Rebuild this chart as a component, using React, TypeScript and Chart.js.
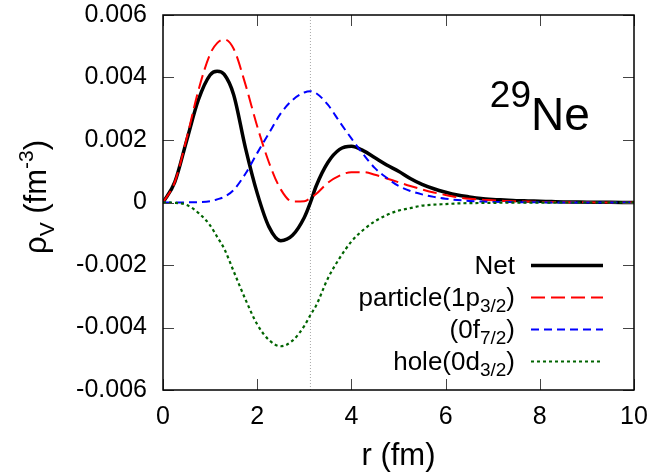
import React, { useEffect, useRef } from "react";
import { Chart, registerables } from "chart.js";

Chart.register(...registerables);

// ---- data ----
const rValues = [
  0, 0.25, 0.5, 0.75, 1, 1.15, 1.3, 1.5, 1.75, 2, 2.25, 2.5, 2.75, 3, 3.13, 3.25, 3.5, 3.75,
  4, 4.25, 4.5, 4.75, 5, 5.25, 5.5, 5.75, 6, 6.25, 6.5, 6.75, 7, 7.25, 7.5, 7.75,
  8, 8.25, 8.5, 8.75, 9, 9.25, 9.5, 9.75, 10,
];
const netDensity = [
  0, 0.00065, 0.00197, 0.00328, 0.00408, 0.0042, 0.0041, 0.00345, 0.00175, 0.0003, -0.00078,
  -0.00122, -0.00105, -0.00048, 0, 0.00052, 0.00128, 0.0017, 0.0018, 0.00166, 0.00143,
  0.0012, 0.001, 0.00077, 0.00058, 0.00044, 0.00033, 0.00024, 0.00018, 0.00013, 0.0001,
  0.00008, 0.00006, 0.00005, 0.00004, 0.00003, 0.00002, 0.000015, 0.00001, 0.000008,
  0.000005, 0.000003, 0.000002,
];
const particleDensity = [
  0, 0.00065, 0.00204, 0.00358, 0.00475, 0.0051, 0.00522, 0.00492, 0.00378, 0.00244, 0.00128,
  0.00042, 0.00003, 0.00004, 0.00014, 0.00027, 0.00063, 0.00086, 0.00097, 0.00097, 0.00089,
  0.00077, 0.00065, 0.00053, 0.00042, 0.00032, 0.00024, 0.00017, 0.00012, 0.00009,
  0.00007, 0.00005, 0.00004, 0.00003, 0.00002, 0.000015, 0.00001, 0.000007, 0.000005,
  0.000003, 0.000002, 0.000001, 0,
];
const f72Density = [
  0, 0, 0.000005, 0.00001, 0.00004, 0.0001, 0.00018, 0.0004, 0.00092, 0.00158, 0.00222,
  0.00285, 0.00328, 0.00352, 0.00356, 0.0035, 0.00313, 0.00258, 0.00205, 0.00155, 0.0011,
  0.00079, 0.00053, 0.00037, 0.00026, 0.00018, 0.00012, 0.00008, 0.00005, 0.00003,
  0.00002, 0.000015, 0.00001, 0.000007, 0.000005, 0.000003, 0.000002, 0.000001, 0, 0,
  0, 0, 0,
];
const holeDensity = [
  0, -0.00001, -0.00008, -0.00033, -0.00073, -0.0011, -0.00148, -0.0022, -0.0031, -0.0039,
  -0.0044, -0.0046, -0.00442, -0.00395, -0.0036, -0.0033, -0.00243, -0.00178, -0.00125,
  -0.00088, -0.0006, -0.0004, -0.00026, -0.00018, -0.0001, -0.00007, -0.00005,
  -0.00003, -0.00002, -0.000015, -0.00001, -0.000007, -0.000005, -0.000003, -0.000002,
  -0.000001, 0, 0, 0, 0, 0, 0, 0,
];
const markerR = [3.13];
const xTicks = [0, 2, 4, 6, 8, 10];
const yTicks = [-0.006, -0.004, -0.002, 0, 0.002, 0.004, 0.006];
const yTickLabels = ["-0.006", "-0.004", "-0.002", "0", "0.002", "0.004", "0.006"];

type Seg = { t: string; k?: "sub" | "sup" };
const xTitle = "r (fm)";
const yTitle: Seg[] = [{ t: "ρ" }, { t: "V", k: "sub" }, { t: " (fm" }, { t: "-3", k: "sup" }, { t: ")" }];
const nucleusMass = "29";
const nucleusName = "Ne";
const legendLabels: Seg[][] = [
  [{ t: "Net" }],
  [{ t: "particle(1p" }, { t: "3/2", k: "sub" }, { t: ")" }],
  [{ t: "(0f" }, { t: "7/2", k: "sub" }, { t: ")" }],
  [{ t: "hole(0d" }, { t: "3/2", k: "sub" }, { t: ")" }],
];

const FONT = '"Liberation Sans", Arial, Helvetica, sans-serif';

const styles = [
  { color: "#000000", width: 3.5, dash: [] as number[] },
  { color: "#ff0000", width: 2, dash: [14, 6] },
  { color: "#0000ff", width: 2, dash: [8, 5] },
  { color: "#006400", width: 2.2, dash: [3, 3] },
];

function drawRich(
  ctx: CanvasRenderingContext2D,
  segs: Seg[],
  x: number,
  y: number,
  align: "left" | "right" | "center",
  size: number,
  small: number
) {
  ctx.textAlign = "left";
  ctx.textBaseline = "alphabetic";
  const widths = segs.map((s) => {
    ctx.font = `${s.k ? small : size}px ${FONT}`;
    return ctx.measureText(s.t).width;
  });
  const total = widths.reduce((a, b) => a + b, 0);
  let cx = align === "right" ? x - total : align === "center" ? x - total / 2 : x;
  segs.forEach((s, i) => {
    ctx.font = `${s.k ? small : size}px ${FONT}`;
    const dy = s.k === "sub" ? size * 0.26 : s.k === "sup" ? -size * 0.42 : 0;
    ctx.fillText(s.t, cx, y + dy);
    cx += widths[i];
  });
}

const overlay = {
  id: "overlay",
  afterDraw(chart: any) {
    const { ctx, chartArea: a } = chart;
    const xs = chart.scales.x;
    const ys = chart.scales.y;
    ctx.save();
    // inward ticks
    ctx.strokeStyle = "#444";
    ctx.lineWidth = 1;
    ctx.setLineDash([]);
    const tl = 11;
    ctx.beginPath();
    xTicks.forEach((v) => {
      const px = Math.round(xs.getPixelForValue(v)) + 0.5;
      ctx.moveTo(px, a.bottom);
      ctx.lineTo(px, a.bottom - tl);
      ctx.moveTo(px, a.top);
      ctx.lineTo(px, a.top + tl);
    });
    yTicks.forEach((v) => {
      const py = Math.round(ys.getPixelForValue(v)) + 0.5;
      ctx.moveTo(a.left, py);
      ctx.lineTo(a.left + tl, py);
      ctx.moveTo(a.right, py);
      ctx.lineTo(a.right - tl, py);
    });
    ctx.stroke();
    // frame
    ctx.strokeStyle = "#000";
    ctx.lineWidth = 1.5;
    ctx.strokeRect(a.left, a.top, a.right - a.left, a.bottom - a.top);

    ctx.fillStyle = "#000";
    // nucleus label
    ctx.textBaseline = "alphabetic";
    ctx.font = `46px ${FONT}`;
    ctx.textAlign = "left";
    ctx.fillText(nucleusName, 531, 130);
    ctx.font = `37px ${FONT}`;
    ctx.textAlign = "right";
    ctx.fillText(nucleusMass, 531, 107);

    // legend
    const baselines = [273.5, 305.5, 337.5, 369.5];
    legendLabels.forEach((segs, i) => {
      ctx.fillStyle = "#000";
      drawRich(ctx, segs, 515, baselines[i], "right", 26, 19);
      const st = styles[i];
      ctx.strokeStyle = st.color;
      ctx.lineWidth = st.width;
      ctx.setLineDash(st.dash);
      ctx.beginPath();
      ctx.moveTo(531, baselines[i] - 8);
      ctx.lineTo(603, baselines[i] - 8);
      ctx.stroke();
    });
    ctx.setLineDash([]);

    // y title
    ctx.save();
    ctx.translate(46, 197);
    ctx.rotate(-Math.PI / 2);
    ctx.fillStyle = "#000";
    drawRich(ctx, yTitle, 0, 0, "center", 31, 21);
    ctx.restore();

    ctx.restore();
  },
};

export default function App() {
  const ref = useRef<HTMLCanvasElement | null>(null);
  useEffect(() => {
    if (!ref.current) return;
    const pts = (arr: number[]) => rValues.map((r, i) => ({ x: r, y: arr[i] }));
    const series = [netDensity, particleDensity, f72Density, holeDensity];
    const curveSets = series
      .map((arr, i) => ({
        data: pts(arr),
        borderColor: styles[i].color,
        borderWidth: styles[i].width,
        borderDash: styles[i].dash,
        pointRadius: 0,
        cubicInterpolationMode: "monotone" as const,
        fill: false,
      }))
      .reverse();
    const chart = new Chart(ref.current, {
      type: "line",
      data: {
        datasets: [
          ...curveSets,
          {
            data: [
              { x: markerR[0], y: yTicks[0] },
              { x: markerR[0], y: yTicks[yTicks.length - 1] },
            ],
            borderColor: "#a8a8a8",
            borderWidth: 1,
            borderDash: [1, 2],
            pointRadius: 0,
            tension: 0,
            fill: false,
          },
        ],
      },
      options: {
        animation: false,
        responsive: false,
        maintainAspectRatio: false,
        devicePixelRatio: 1,
        layout: { padding: { left: 0, top: 15, right: 18, bottom: 0 } },
        plugins: { legend: { display: false }, tooltip: { enabled: false } },
        scales: {
          x: {
            type: "linear",
            min: 0,
            max: 10,
            afterBuildTicks: (s: any) => {
              s.ticks = xTicks.map((v) => ({ value: v }));
            },
            afterFit: (s: any) => {
              s.height = 82;
              s.paddingLeft = 0;
              s.paddingRight = 0;
            },
            grid: { display: false, drawTicks: false },
            border: { display: false },
            ticks: {
              padding: 12,
              color: "#000",
              font: { family: FONT, size: 25 },
              maxRotation: 0,
              autoSkip: false,
              callback: (v: any) => String(v),
            },
            title: {
              display: true,
              text: xTitle,
              color: "#000",
              font: { family: FONT, size: 31, lineHeight: 1 },
              padding: 0,
            },
          },
          y: {
            type: "linear",
            min: -0.006,
            max: 0.006,
            afterBuildTicks: (s: any) => {
              s.ticks = yTicks.map((v) => ({ value: v }));
            },
            afterFit: (s: any) => {
              s.width = 163;
              s.paddingTop = 0;
              s.paddingBottom = 0;
            },
            grid: { display: false, drawTicks: false },
            border: { display: false },
            ticks: {
              padding: 16,
              color: "#000",
              font: { family: FONT, size: 25 },
              autoSkip: false,
              callback: (v: any) => {
                const i = yTicks.findIndex((t) => Math.abs(t - v) < 1e-9);
                return i >= 0 ? yTickLabels[i] : "";
              },
            },
          },
        },
      },
      plugins: [overlay],
    });
    return () => chart.destroy();
  }, []);
  return (
    <div style={{ position: "fixed", left: 0, top: 0, width: 652, height: 472, background: "#fff" }}>
      <canvas ref={ref} width={652} height={472} style={{ display: "block" }} />
    </div>
  );
}
